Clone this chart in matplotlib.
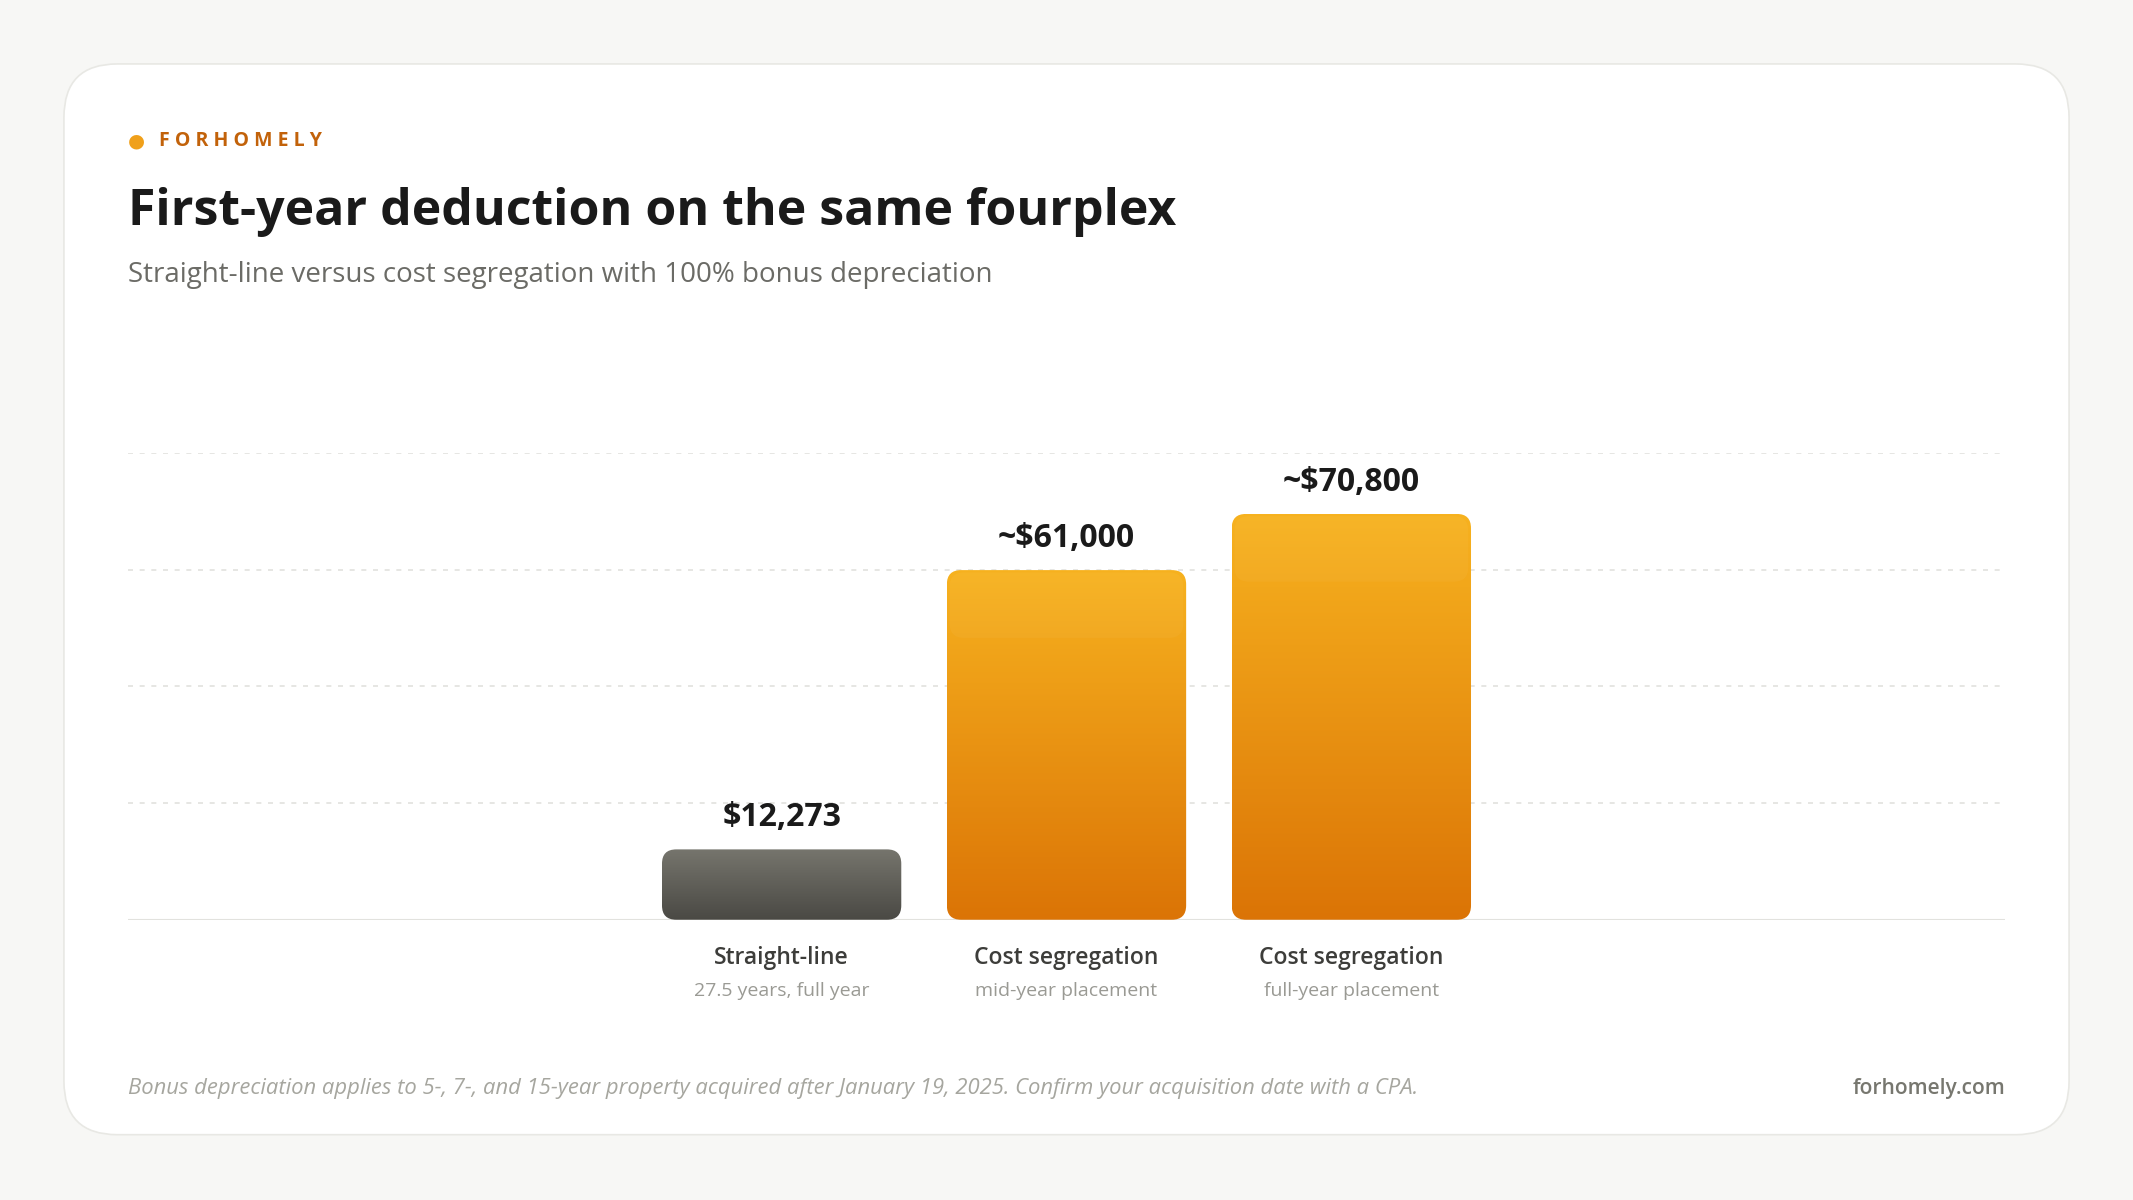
import matplotlib
matplotlib.use("Agg")
import matplotlib.pyplot as plt
import numpy as np
from matplotlib.patches import FancyBboxPatch
from matplotlib.colors import LinearSegmentedColormap

plt.rcParams['font.family'] = ['Open Sans', 'DejaVu Sans']

categories = ["Straight-line", "Cost segregation", "Cost segregation"]
sublabels = ["27.5 years, full year", "mid-year placement", "full-year placement"]
values = [12273, 61000, 70800]
value_labels = ["$12,273", "~$61,000", "~$70,800"]

W, H = 1568, 882
fig = plt.figure(figsize=(21.33, 12), dpi=100)
fig.patch.set_facecolor("#f7f7f5")

def fx(x): return x / W
def fy(y): return 1 - y / H

card = FancyBboxPatch((fx(47), fy(834)), fx(1521) - fx(47), fy(47) - fy(834),
                      boxstyle="round,pad=0,rounding_size=0.025",
                      transform=fig.transFigure, facecolor="white",
                      edgecolor="#e8e8e4", linewidth=1.2, mutation_aspect=W/H, zorder=-5)
fig.patches.append(card)

fig.text(fx(100), fy(104), "●", color="#f0a01a", fontsize=14, ha="center", va="center")
fig.text(fx(117), fy(104), "F O R H O M E L Y", color="#c2620a", fontsize=14,
         fontweight="bold", ha="left", va="center")
fig.text(fx(94), fy(156), "First-year deduction on the same fourplex", color="#1a1a1a",
         fontsize=36, fontweight="bold", ha="left", va="center")
fig.text(fx(94), fy(202), "Straight-line versus cost segregation with 100% bonus depreciation",
         color="#6b6b66", fontsize=20, ha="left", va="center")

ax = fig.add_axes([fx(94), fy(676), fx(1474) - fx(94), fy(333) - fy(676)], zorder=2)
ax.patch.set_visible(False)
ymax = max(values) * 1.15
xl = (-2.295, 4.295)
for s in ax.spines.values():
    s.set_visible(False)
ax.set_xticks([]); ax.set_yticks([])
for k in range(1, 5):
    ax.axhline(ymax * k / 4, color="#e2e2de", lw=1.2, ls=(0, (3, 4)), zorder=0)
ax.axhline(0, color="#e2e2de", lw=1.5, zorder=1)

gray = LinearSegmentedColormap.from_list("g", ["#4a4944", "#76756d"])
orange = LinearSegmentedColormap.from_list("o", ["#db7406", "#f7b21f"])
bw = 0.84
asp = (ymax / 343) / ((xl[1] - xl[0]) / 1380)
for i, v in enumerate(values):
    cmap = gray if i == 0 else orange
    patch = FancyBboxPatch((i - bw/2, 0), bw, v, boxstyle="round,pad=0,rounding_size=0.05",
                           mutation_aspect=asp, facecolor="none", edgecolor="none",
                           transform=ax.transData)
    ax.add_patch(patch)
    grad = np.linspace(0, 1, 256).reshape(-1, 1)
    im = ax.imshow(grad, cmap=cmap, aspect="auto", origin="lower",
                   extent=(i - bw/2, i + bw/2, 0, v), zorder=2)
    im.set_clip_path(patch)
    if i > 0:
        hl = FancyBboxPatch((i - bw/2 + 0.01, v - ymax * 0.145), bw - 0.02, ymax * 0.14,
                            boxstyle="round,pad=0,rounding_size=0.05",
                            mutation_aspect=asp,
                            facecolor="white", alpha=0.04, edgecolor="none", zorder=3)
        ax.add_patch(hl)
    ax.text(i, v + ymax * 0.033, value_labels[i], ha="center", va="bottom",
            fontsize=23, fontweight="bold", color="#1a1a1a")
    ax.text(i, -ymax * 0.083, categories[i], ha="center", va="center",
            fontsize=16.5, color="#3d3d3a", fontweight="semibold")
    ax.text(i, -ymax * 0.152, sublabels[i], ha="center", va="center",
            fontsize=14, color="#9a9a94")
ax.set_xlim(*xl)
ax.set_ylim(0, ymax)

fig.text(fx(94), fy(800), "Bonus depreciation applies to 5-, 7-, and 15-year property acquired after January 19, 2025. Confirm your acquisition date with a CPA.",
         color="#a6a69f", fontsize=15.8, style="italic", ha="left", va="center")
fig.text(fx(1474), fy(800), "forhomely.com", color="#77776f", fontsize=15,
         fontweight="semibold", ha="right", va="center")

fig.savefig("out.png", dpi=100, facecolor=fig.get_facecolor())
